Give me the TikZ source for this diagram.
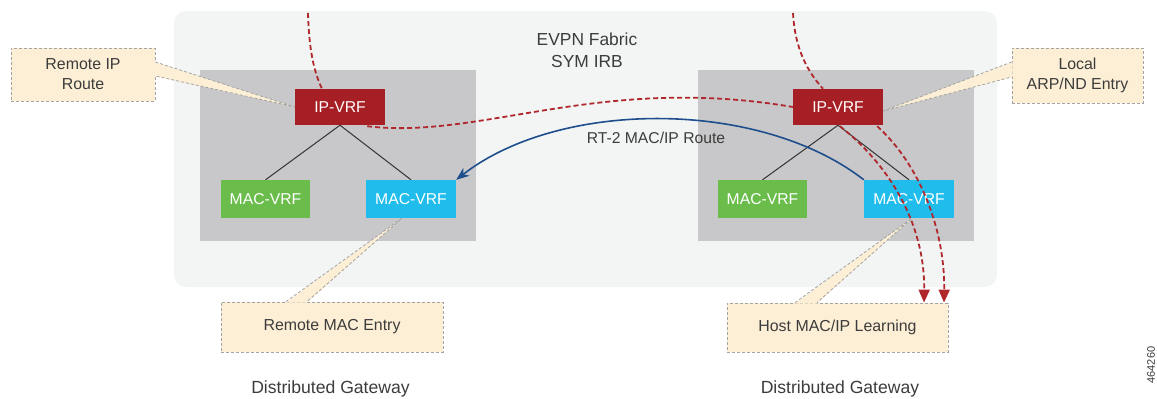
\documentclass[tikz,border=0pt]{standalone}
\usepackage{fontspec}
\setmainfont{Liberation Sans}
\usetikzlibrary{arrows.meta}
\definecolor{fabricbg}{HTML}{F3F5F5}
\definecolor{boxgray}{HTML}{C8C8CA}
\definecolor{ipred}{HTML}{A61F24}
\definecolor{macgreen}{HTML}{6BBD4B}
\definecolor{macblue}{HTML}{20BDEC}
\definecolor{callfill}{HTML}{FDEFD5}
\definecolor{callline}{HTML}{A3A3A3}
\definecolor{txtgray}{HTML}{3C3C3C}
\definecolor{flowred}{HTML}{B0282C}
\definecolor{routeblue}{HTML}{1F4E8C}
\pgfdeclarelayer{bg}
\pgfdeclarelayer{mid}
\pgfsetlayers{bg,mid,main}
\tikzset{
  fabricbox/.style={rectangle, rounded corners=12pt, fill=fabricbg, draw=none, inner sep=0pt},
  graybox/.style={rectangle, fill=boxgray, draw=none, inner sep=0pt, minimum width=276pt, minimum height=171pt},
  vrf/.style={rectangle, draw=none, inner sep=0pt, text=white, font=\fontsize{15.7}{18}\selectfont},
  ipvrf/.style={vrf, fill=ipred, minimum width=90pt, minimum height=36pt},
  macg/.style={vrf, fill=macgreen, minimum width=89pt, minimum height=38pt},
  macb/.style={vrf, fill=macblue, minimum width=90pt, minimum height=38pt},
  callbox/.style={rectangle, fill=callfill, draw=callline, dashed, dash pattern=on 3pt off 2pt, line width=0.8pt, inner sep=0pt, text=txtgray, align=center, font=\fontsize{15.9}{20}\selectfont},
  wedgefill/.style={fill=callfill, draw=none},
  wedgeline/.style={draw=callline, dash pattern=on 3pt off 2pt, line width=0.8pt},
  treeline/.style={draw=black!80, line width=1pt},
  redflow/.style={draw=flowred, line width=1.8pt, dash pattern=on 5pt off 3pt},
  redarrow/.style={redflow, -{Triangle[length=13pt,width=11pt,fill=flowred]}},
  bluearrow/.style={draw=routeblue, line width=1.6pt, -{Stealth[length=13pt,width=10pt,inset=4pt]}},
  plaintext/.style={text=txtgray, inner sep=0pt},
}
\begin{document}
\begin{tikzpicture}[x=1pt,y=-1pt]
\useasboundingbox (0,0) rectangle (1157,399);

\begin{pgfonlayer}{bg}
  \node[fabricbox, minimum width=823pt, minimum height=276pt] (fabric) at (585.5,149) {};
  \node[graybox] (lgray) at (338,155.5) {};
  \node[graybox] (rgray) at (836,155.5) {};
\end{pgfonlayer}

\node[plaintext, align=center, font=\fontsize{17.4}{22}\selectfont] (title) at (587,50) {EVPN Fabric\\SYM IRB};

% VRF nodes
\node[ipvrf] (lip) at (340,107) {IP-VRF};
\node[ipvrf] (rip) at (838,107) {IP-VRF};
\node[macg] (lgreen) at (265.5,199) {MAC-VRF};
\node[macb] (lblue) at (411,199) {MAC-VRF};
\node[macg] (rgreen) at (762.5,199) {MAC-VRF};
\node[macb] (rblue) at (909,199) {MAC-VRF};

\coordinate (topL) at (308,13);
\coordinate (topR) at (793,13);

\begin{pgfonlayer}{mid}
  \draw[redflow] (topL) .. controls (309,50) and (314,72) .. ([xshift=-18pt]lip.north);
  \draw[redflow] (topR) .. controls (795,50) and (808,72) .. ([xshift=-15pt]rip.north);
  \draw[redflow] ([xshift=-18pt,yshift=-1pt]lip.south east) .. controls (480,140) and (600,74) .. (rip.west);
  \draw[treeline] (lip.south) -- (lgreen.north);
  \draw[treeline] (lip.south) -- (lblue.north);
  \draw[treeline] (rip.south) -- (rgreen.north);
  \draw[treeline] (rip.south) -- (rblue.north);
  \draw[bluearrow] (rblue.north west) .. controls (760,99) and (560,99) .. (lblue.north east);
\end{pgfonlayer}

\node[plaintext, font=\fontsize{15.7}{18}\selectfont] (rtlabel) at (656,138) {RT-2 MAC/IP Route};

% callout boxes
\node[callbox, minimum width=144pt, minimum height=53pt] (cRemIP) at (83,74.5) {Remote IP\\Route};
\node[callbox, minimum width=131pt, minimum height=55pt] (cLocal) at (1077.5,75.5) {Local\\ARP/ND Entry};
\node[callbox, minimum width=222pt, minimum height=50pt] (cRemMAC) at (332,327) {Remote MAC Entry};
\node[callbox, minimum width=221pt, minimum height=49pt] (cHost) at (837.5,327.5) {Host MAC/IP Learning};

% red arrows to host learning
\draw[redarrow] ([xshift=2pt,yshift=-1pt]rip.south) .. controls (895,170) and (925,230) .. ([xshift=86.5pt]cHost.north);
\draw[redarrow] ([xshift=-6pt,yshift=-1pt]rip.south east) .. controls (920,165) and (945,230) .. ([xshift=106.5pt]cHost.north);

% callout wedges
\fill[wedgefill] ([xshift=-1pt,yshift=12.5pt]cRemIP.east) -- (lip.west) -- ([xshift=-1pt,yshift=-1.5pt]cRemIP.east) -- cycle;
\draw[wedgeline] ([yshift=12.5pt]cRemIP.east) -- (lip.west) -- ([yshift=-1.5pt]cRemIP.east);

\fill[wedgefill] ([xshift=1pt,yshift=13.5pt]cLocal.west) -- ([yshift=-4pt]rip.east) -- ([xshift=1pt,yshift=-1.5pt]cLocal.west) -- cycle;
\draw[wedgeline] ([yshift=13.5pt]cLocal.west) -- ([yshift=-4pt]rip.east) -- ([yshift=-1.5pt]cLocal.west);

\fill[wedgefill] ([xshift=-46pt,yshift=-1pt]cRemMAC.north) -- ([xshift=-9pt]lblue.south) -- ([xshift=-25pt,yshift=-1pt]cRemMAC.north) -- cycle;
\draw[wedgeline] ([xshift=-46pt]cRemMAC.north) -- ([xshift=-9pt]lblue.south) -- ([xshift=-25pt]cRemMAC.north);

\fill[wedgefill] ([xshift=-42.5pt,yshift=-1pt]cHost.north) -- ([xshift=3pt]rblue.south) -- ([xshift=-20.5pt,yshift=-1pt]cHost.north) -- cycle;
\draw[wedgeline] ([xshift=-42.5pt]cHost.north) -- ([xshift=3pt]rblue.south) -- ([xshift=-20.5pt]cHost.north);

% bottom labels
\node[plaintext, font=\fontsize{17.6}{20}\selectfont] (dgL) at (330.5,389) {Distributed Gateway};
\node[plaintext, font=\fontsize{17.6}{20}\selectfont] (dgR) at (840,389) {Distributed Gateway};
\node[plaintext, rotate=90, font=\fontsize{11}{13}\selectfont] (figid) at (1151,365) {464260};
\end{tikzpicture}
\end{document}
